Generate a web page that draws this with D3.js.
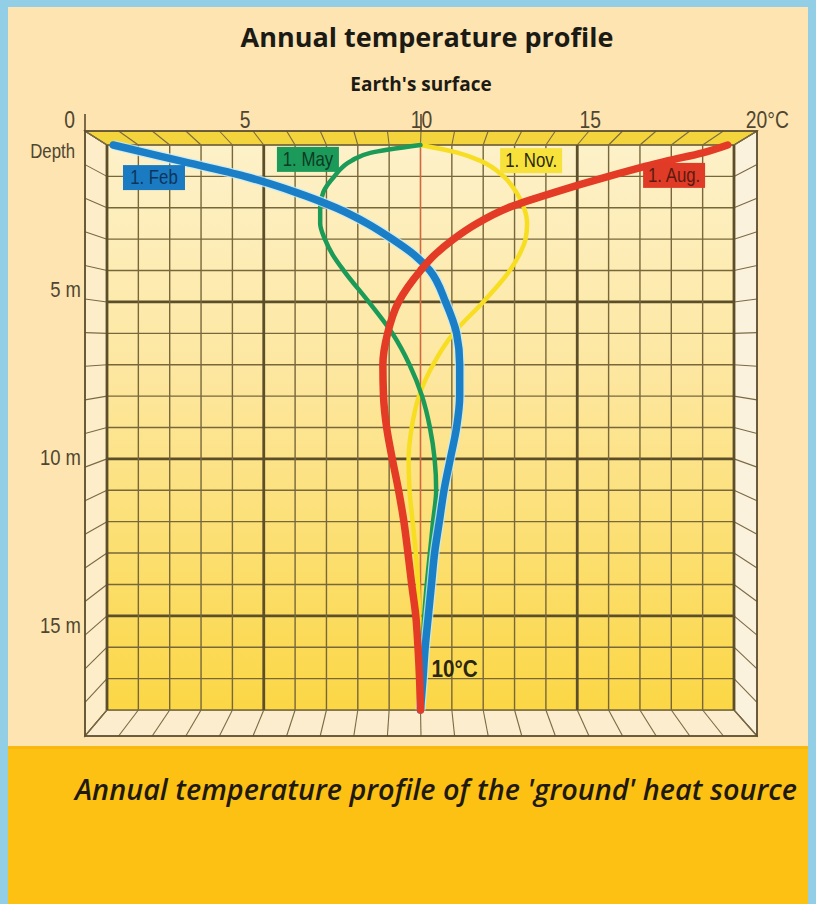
<!DOCTYPE html>
<html lang="en">
<head>
<meta charset="UTF-8"/>
<title>Annual temperature profile</title>
<style>
  body { margin: 0; background: #fde4b1; }
  svg { display: block; }
  .narrow { font-family: 'Liberation Sans', Arial, sans-serif; }
</style>
<script src="https://d3js.org/d3.v7.min.js"></script>
</head>
<body>
<div id="chart"></div>
<script>
// depth below the surface (m)
var depths = [0, 0.25, 0.5, 1, 1.5, 2, 2.5, 3, 3.5, 4, 5, 6, 7, 8, 9, 10, 11, 12, 13, 14, 15, 16, 17, 18];

// ground temperature (deg C) at each depth
var febTemps = [0.2, 1.25, 2.3, 4.4, 6.0, 7.3, 8.3, 9.1, 9.8, 10.3, 10.8, 11.15, 11.25, 11.25, 11.15, 10.95, 10.75, 10.6, 10.45, 10.35, 10.25, 10.15, 10.08, 10.0];
var mayTemps = [10.0, 8.4, 7.8, 7.25, 6.9, 6.8, 6.8, 6.95, 7.2, 7.55, 8.35, 9.1, 9.65, 10.05, 10.3, 10.45, 10.5, 10.4, 10.3, 10.2, 10.12, 10.07, 10.03, 10.0];
var novTemps = [10.0, 11.2, 11.9, 12.65, 13.05, 13.3, 13.4, 13.35, 13.15, 12.85, 12.0, 11.05, 10.4, 9.95, 9.72, 9.62, 9.65, 9.75, 9.85, 9.92, 9.96, 9.98, 10.0, 10.0];
var augTemps = [19.8, 19.0, 17.9, 16.0, 14.3, 12.8, 11.8, 11.05, 10.45, 10.0, 9.3, 8.95, 8.8, 8.82, 8.92, 9.1, 9.3, 9.47, 9.6, 9.72, 9.85, 9.92, 9.97, 10.0];

var seriesNames = ["1. Nov.", "1. May", "1. Feb", "1. Aug."];
var tempLabels = [0, 5, 10, 15, 20];
var depthLabels = [5, 10, 15];

var w = 816, h = 904;
var squeeze = "scale(0.84,1)"; // narrow lettering like the original

var svg = d3.select("#chart").append("svg")
  .attr("width", w)
  .attr("height", h);

// back plane (the grid) and front frame of the box
var xBack = d3.scaleLinear().domain([0, 20]).range([107, 734]);
var yBack = d3.scaleLinear().domain([0, 18]).range([145, 710]);
var xFront = d3.scaleLinear().domain([0, 20]).range([85, 757]);
var yFront = d3.scaleLinear().domain([0, 18]).range([131, 736]);

var tempGrid = d3.range(0, 21);
var depthGrid = d3.range(0, 19);

var defs = svg.append("defs");
var grad = defs.append("linearGradient")
  .attr("id", "backFill")
  .attr("x1", 0).attr("y1", 0).attr("x2", 0).attr("y2", 1);
grad.append("stop").attr("offset", "0%").attr("stop-color", "#fdf1c9");
grad.append("stop").attr("offset", "40%").attr("stop-color", "#fde7a0");
grad.append("stop").attr("offset", "100%").attr("stop-color", "#fbd745");

// page
svg.append("rect").attr("width", w).attr("height", h).attr("fill", "#fde4b1");
svg.append("rect").attr("x", 0).attr("y", 748).attr("width", w).attr("height", h - 748).attr("fill", "#fdc114");
svg.append("rect").attr("x", 0).attr("y", 746).attr("width", w).attr("height", 3).attr("fill", "#f9b80e");

// titles
svg.append("text")
  .attr("x", 427).attr("y", 47)
  .attr("text-anchor", "middle")
  .style("font-family", "'Open Sans', sans-serif")
  .style("font-weight", 700)
  .style("font-size", "27px")
  .attr("fill", "#1c1a14")
  .text("Annual temperature profile");

svg.append("text")
  .attr("x", 421).attr("y", 91)
  .attr("text-anchor", "middle")
  .style("font-family", "'Open Sans', sans-serif")
  .style("font-weight", 700)
  .style("font-size", "19px")
  .attr("fill", "#1c1a14")
  .text("Earth's surface");

// faces of the box
var faceStroke = "#6d5e3c";
function poly(pts, fill) {
  svg.append("polygon")
    .attr("points", pts.map(function(p) { return p.join(","); }).join(" "))
    .attr("fill", fill)
    .attr("stroke", faceStroke)
    .attr("stroke-width", 1.2);
}
// left
poly([[xFront(0), yFront(0)], [xBack(0), yBack(0)], [xBack(0), yBack(18)], [xFront(0), yFront(18)]], "#fdedc9");
// right
poly([[xFront(20), yFront(0)], [xBack(20), yBack(0)], [xBack(20), yBack(18)], [xFront(20), yFront(18)]], "#fbf2de");
// bottom
poly([[xFront(0), yFront(18)], [xBack(0), yBack(18)], [xBack(20), yBack(18)], [xFront(20), yFront(18)]], "#fbedcd");

// back plane
svg.append("rect")
  .attr("x", xBack(0)).attr("y", yBack(0))
  .attr("width", xBack(20) - xBack(0))
  .attr("height", yBack(18) - yBack(0))
  .attr("fill", "url(#backFill)");

// top face (earth's surface)
poly([[xFront(0), yFront(0)], [xFront(20), yFront(0)], [xBack(20), yBack(0)], [xBack(0), yBack(0)]], "#f4d43c");

// connectors across the side faces
var conn = svg.append("g").attr("stroke", "#7a6a44").attr("stroke-width", 1.1);
conn.selectAll(".cl").data(depthGrid).enter().append("line")
  .attr("x1", xFront(0)).attr("y1", function(d) { return yFront(d); })
  .attr("x2", xBack(0)).attr("y2", function(d) { return yBack(d); });
conn.selectAll(".cr").data(depthGrid).enter().append("line")
  .attr("x1", xFront(20)).attr("y1", function(d) { return yFront(d); })
  .attr("x2", xBack(20)).attr("y2", function(d) { return yBack(d); });
conn.selectAll(".ct").data(tempGrid).enter().append("line")
  .attr("x1", function(t) { return xFront(t); }).attr("y1", yFront(0))
  .attr("x2", function(t) { return xBack(t); }).attr("y2", yBack(0));
conn.selectAll(".cb").data(tempGrid).enter().append("line")
  .attr("x1", function(t) { return xFront(t); }).attr("y1", yFront(18))
  .attr("x2", function(t) { return xBack(t); }).attr("y2", yBack(18));

// grid on the back plane
var grid = svg.append("g");
grid.selectAll(".gh").data(depthGrid).enter().append("line")
  .attr("x1", xBack(0)).attr("x2", xBack(20))
  .attr("y1", function(d) { return yBack(d); })
  .attr("y2", function(d) { return yBack(d); })
  .attr("stroke", function(d) { return d % 5 === 0 && d > 0 ? "#5d4e2a" : "#77673b"; })
  .attr("stroke-width", function(d) { return d % 5 === 0 && d > 0 ? 2.8 : 1.4; });
grid.selectAll(".gv").data(tempGrid).enter().append("line")
  .attr("y1", yBack(0)).attr("y2", yBack(18))
  .attr("x1", function(t) { return xBack(t); })
  .attr("x2", function(t) { return xBack(t); })
  .attr("stroke", function(t) { return t === 10 ? "#d2693e" : (t % 5 === 0 ? "#5d4e2a" : "#77673b"); })
  .attr("stroke-width", function(t) { return t === 10 ? 1.6 : (t % 5 === 0 ? 2.8 : 1.4); });

// front frame
var frame = svg.append("g").attr("stroke", "#5a4c30").attr("stroke-width", 1.6).attr("fill", "none");
frame.append("rect")
  .attr("x", xFront(0)).attr("y", yFront(0))
  .attr("width", xFront(20) - xFront(0))
  .attr("height", yFront(18) - yFront(0));
frame.selectAll(".tk").data([0, 10]).enter().append("line")
  .attr("x1", function(t) { return xFront(t); })
  .attr("x2", function(t) { return xFront(t); })
  .attr("y1", yFront(0) - 17).attr("y2", yFront(0));

// temperature axis labels
var labelShift = { 0: -19, 5: -10, 10: 0, 15: 1, 20: -14 };
var xAxis = svg.append("g")
  .attr("transform", "translate(0," + yFront(0) + ")")
  .call(d3.axisTop(xFront).tickValues(tempLabels).tickSize(0).tickPadding(3)
    .tickFormat(function(d) { return d === 20 ? "20°C" : d; }));
xAxis.select(".domain").remove();
xAxis.selectAll("text")
  .attr("class", "narrow")
  .attr("transform", squeeze)
  .attr("dx", function(d) { return labelShift[d]; })
  .attr("text-anchor", function(d) { return d === 20 ? "start" : "middle"; })
  .style("font-size", "23px")
  .attr("fill", "#4f4630");

// depth axis labels
var yAxis = svg.append("g")
  .attr("transform", "translate(" + (xFront(0) - 4) + ",0)")
  .call(d3.axisLeft(yFront).tickValues(depthLabels).tickSize(0).tickPadding(0)
    .tickFormat(function(d) { return d + " m"; }));
yAxis.select(".domain").remove();
yAxis.selectAll("text")
  .attr("class", "narrow")
  .attr("transform", squeeze)
  .attr("dy", "-0.1em")
  .style("font-size", "22px")
  .attr("fill", "#4f4630");

svg.append("g").attr("transform", "translate(75,158)")
  .append("text")
  .attr("class", "narrow")
  .attr("transform", squeeze)
  .attr("text-anchor", "end")
  .style("font-size", "20px")
  .attr("fill", "#4f4630")
  .text("Depth");

// curves
var series = [
  { name: seriesNames[0], temps: novTemps, color: "#f7de22", width: 4.5 },
  { name: seriesNames[1], temps: mayTemps, color: "#1c9a58", width: 4.5 },
  { name: seriesNames[2], temps: febTemps, color: "#1a7fc6", width: 7.5 },
  { name: seriesNames[3], temps: augTemps, color: "#e33b25", width: 7.5 }
];

var line = d3.line()
  .x(function(p) { return xBack(p[1]); })
  .y(function(p) { return yBack(p[0]); })
  .curve(d3.curveMonotoneY);

series.forEach(function(s) {
  var pts = depths.map(function(d, i) { return [d, s.temps[i]]; });
  if (s.name === "1. Feb") {
    svg.append("path").datum(pts).attr("d", line)
      .attr("fill", "none").attr("stroke", "#c6ebf5").attr("stroke-width", s.width + 2.5)
      .attr("stroke-opacity", 0.8);
  }
  svg.append("path").datum(pts).attr("d", line)
    .attr("fill", "none")
    .attr("stroke", s.color)
    .attr("stroke-width", s.width)
    .attr("stroke-linecap", "round");
});

// series labels (position in grid units: top-left corner)
var tagPos = {
  "1. Feb": { t: 0.51, d: 0.64, fill: "#1a7bc2", ink: "#0d355c" },
  "1. May": { t: 5.42, d: 0.06, fill: "#1b9a5a", ink: "#0c3a22" },
  "1. Nov.": { t: 12.54, d: 0.1, fill: "#f6e23a", ink: "#2b2810" },
  "1. Aug.": { t: 17.1, d: 0.57, fill: "#e03b27", ink: "#5b1a10" }
};
seriesNames.forEach(function(n) {
  var p = tagPos[n];
  var g = svg.append("g").attr("transform", "translate(" + xBack(p.t) + "," + yBack(p.d) + ")");
  g.append("rect").attr("width", 62).attr("height", 25).attr("fill", p.fill);
  g.append("g").attr("transform", "translate(31,19)")
    .append("text")
    .attr("class", "narrow")
    .attr("transform", squeeze)
    .attr("text-anchor", "middle")
    .style("font-size", "20px")
    .attr("fill", p.ink)
    .text(n);
});

// 10 degC note at depth
svg.append("g").attr("transform", "translate(" + xBack(10.35) + "," + yBack(16.95) + ")")
  .append("text")
  .attr("class", "narrow")
  .attr("transform", "scale(0.9,1)")
  .style("font-size", "23px")
  .style("font-weight", 700)
  .attr("fill", "#2b2614")
  .text("10°C");

// caption
svg.append("text")
  .attr("x", 75).attr("y", 800)
  .attr("textLength", 722)
  .attr("lengthAdjust", "spacingAndGlyphs")
  .style("font-family", "'Open Sans', sans-serif")
  .style("font-style", "italic")
  .style("font-weight", 600)
  .style("font-size", "29px")
  .attr("fill", "#1e1a10")
  .text("Annual temperature profile of the 'ground' heat source");

// light blue border of the picture
svg.append("rect").attr("x", 0).attr("y", 0).attr("width", w).attr("height", 7).attr("fill", "#92cfe6");
svg.append("rect").attr("x", 0).attr("y", 0).attr("width", 8).attr("height", h).attr("fill", "#92cfe6");
svg.append("rect").attr("x", w - 8).attr("y", 0).attr("width", 8).attr("height", h).attr("fill", "#92cfe6");
</script>
</body>
</html>
